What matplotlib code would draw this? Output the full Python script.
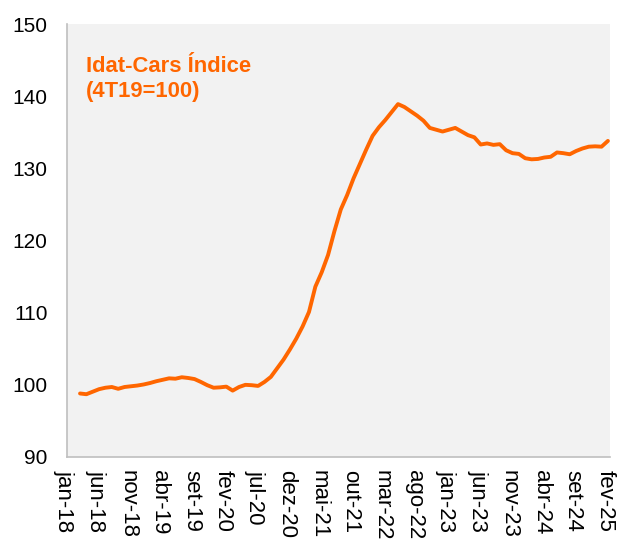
import matplotlib.pyplot as plt
import matplotlib.transforms as mtransforms
import numpy as np

plt.rcParams['font.family'] = ['Liberation Sans', 'DejaVu Sans']

meses = ['jan', 'fev', 'mar', 'abr', 'mai', 'jun',
         'jul', 'ago', 'set', 'out', 'nov', 'dez']
datas = ['%s-%02d' % (meses[i % 12], 18 + i // 12) for i in range(86)]

# indice mensal mar-18 .. fev-25
inicio = 2
indice = [
    98.8, 98.7, 99.05, 99.4, 99.6, 99.7, 99.45, 99.7,
    99.8, 99.9, 100.05, 100.25, 100.5, 100.7, 100.9, 100.85, 101.05, 100.95,
    100.8, 100.4, 99.95, 99.6, 99.65, 99.75, 99.2, 99.7, 100.0, 99.95,
    99.85, 100.4, 101.1, 102.3, 103.5, 104.9, 106.4, 108.1, 110.1, 113.6,
    115.6, 118.0, 121.3, 124.3, 126.3, 128.6, 130.6, 132.6, 134.5, 135.7,
    136.7, 137.8, 138.9, 138.5, 137.9, 137.3, 136.6, 135.6, 135.35, 135.1,
    135.35, 135.6, 135.1, 134.6, 134.3, 133.3, 133.45, 133.25, 133.35, 132.5,
    132.1, 132.0, 131.4, 131.25, 131.3, 131.5, 131.6, 132.2, 132.1, 131.95,
    132.4, 132.75, 133.0, 133.05, 133.0, 133.8,
]
x = np.arange(inicio, inicio + len(indice))

fig = plt.figure(figsize=(6.17, 5.39), dpi=100)
ax = fig.add_axes([67 / 617, 1 - 457 / 539, 543 / 617, 433 / 539])
ax.set_facecolor('#f2f2f2')

ax.plot(x, indice, color='#ff6600', linewidth=2.8, solid_joinstyle='round',
        solid_capstyle='round')

ax.set_ylim(90, 150)
ax.set_yticks(range(90, 151, 10))
ax.set_xlim(-0.05, 85.33)
ticks = np.arange(0, 86, 5)
ax.set_xticks(ticks)
ax.set_xticklabels([datas[t] for t in ticks], rotation=-90)

ax.tick_params(axis='both', length=0, colors='black')
ax.tick_params(axis='y', pad=14, labelsize=15)
ax.tick_params(axis='x', pad=9, labelsize=16)

# puxa os rotulos do eixo x um pouco para a esquerda
desloc = mtransforms.ScaledTranslation(-3 / 100, 0, fig.dpi_scale_trans)
for lab in ax.get_xticklabels():
    lab.set_transform(lab.get_transform() + desloc)

for s in ['top', 'right']:
    ax.spines[s].set_visible(False)
for s in ['left', 'bottom']:
    ax.spines[s].set_color('#bfbfbf')
    ax.spines[s].set_linewidth(1.2)

fig.text(86 / 617, 1 - 56 / 539, 'Idat-Cars Índice\n(4T19=100)',
         color='#ff6600', fontsize=15.8, fontweight='bold',
         ha='left', va='top', linespacing=1.28)

fig.savefig('out.png', dpi=100)
